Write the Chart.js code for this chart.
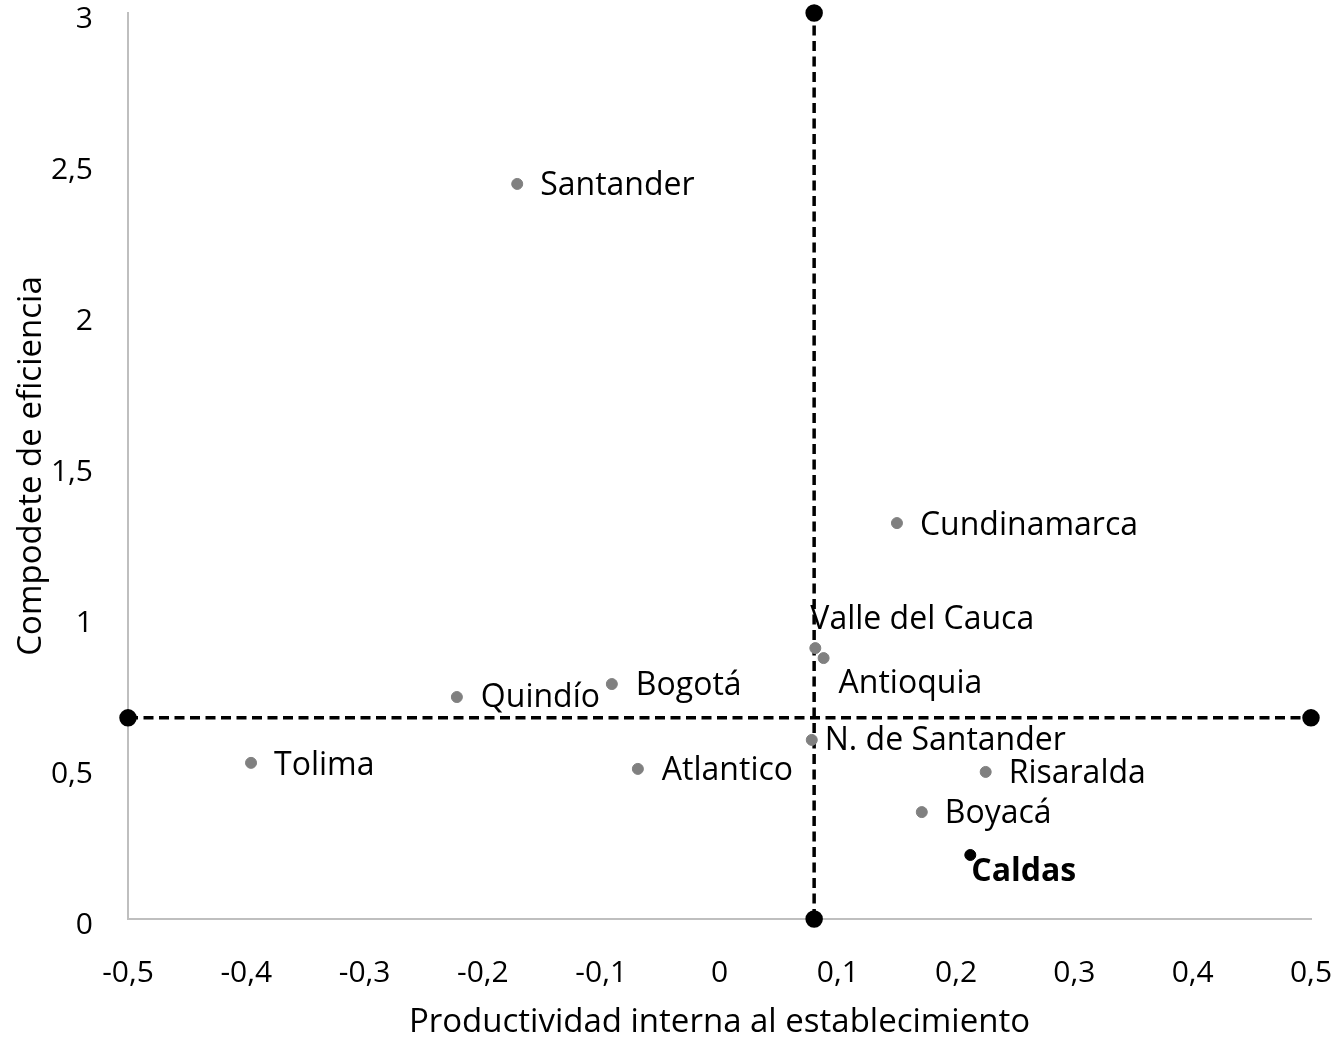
<!DOCTYPE html>
<html><head><meta charset="utf-8">
<script src="https://cdn.jsdelivr.net/npm/chart.js@4"></script>
<style>html,body{margin:0;padding:0;background:#fff;}#wrap{width:1337px;height:1042px;}</style>
</head><body><div id="wrap"><canvas id="c"></canvas></div>
<script>
const regions = ["Santander","Cundinamarca","Valle del Cauca","Antioquia","Bogotá","Quindío","Tolima","Atlantico","N. de Santander","Risaralda","Boyacá"];
const productividad = [-0.171, 0.150, 0.081, 0.088, -0.091, -0.222, -0.396, -0.069, 0.078, 0.225, 0.171];
const eficiencia = [2.434, 1.311, 0.897, 0.864, 0.778, 0.735, 0.517, 0.497, 0.593, 0.487, 0.354];
const highlightName = ["Caldas"];
const highlightX = [0.212];
const highlightY = [0.212];
const meanX = 0.080;
const meanY = 0.666;
const xTicks = [-0.5, 0.5];
const yTicks = [0, 3];

// label placement offsets (px) relative to point
const labelOffsets = {
  "Santander":[23,2],"Cundinamarca":[23,3],"Valle del Cauca":[-5,-28],"Antioquia":[15,26],
  "Bogotá":[24,2],"Quindío":[24,1],"Tolima":[23,3],"Atlantico":[24,2],"N. de Santander":[13,1],
  "Risaralda":[23,2],"Boyacá":[23,2],"Caldas":[1,17]
};
const FONT = "'Open Sans', sans-serif";
const fmt = v => { const r = Math.round(v*10)/10; return String(r).replace('.', ','); };

const labelPlugin = {
  id: 'pointLabels',
  afterDatasetsDraw(chart) {
    const ctx = chart.ctx;
    ctx.save();
    ctx.textBaseline = 'middle';
    ctx.textAlign = 'left';
    ctx.fillStyle = '#000';
    [0,1].forEach(di => {
      const ds = chart.data.datasets[di];
      const meta = chart.getDatasetMeta(di);
      meta.data.forEach((pt, i) => {
        const name = ds.names[i];
        const off = labelOffsets[name] || [20,0];
        ctx.font = (di === 1 ? 'bold ' : '') + '32px ' + FONT;
        ctx.fillText(name, pt.x + off[0], pt.y + off[1]);
      });
    });
    ctx.restore();
  }
};

new Chart(document.getElementById('c'), {
  type: 'scatter',
  data: {
    datasets: [
      { names: regions, data: productividad.map((x,i)=>({x, y: eficiencia[i]})),
        backgroundColor: '#808080', borderColor: '#808080', pointRadius: 5.5, pointHoverRadius: 5.5, order: 1 },
      { names: highlightName, data: highlightX.map((x,i)=>({x, y: highlightY[i]})),
        backgroundColor: '#000', borderColor: '#000', pointRadius: 5.5, pointHoverRadius: 5.5, order: 1 },
      { data: [{x: meanX, y: yTicks[0]}, {x: meanX, y: yTicks[1]}], showLine: true,
        borderColor: '#000', borderWidth: 3.5, borderDash: [10,5.5], backgroundColor: '#000', pointRadius: 7, order: 2, clip: false },
      { data: [{x: xTicks[0], y: meanY}, {x: xTicks[1], y: meanY}], showLine: true,
        borderColor: '#000', borderWidth: 3.5, borderDash: [10,5.5], backgroundColor: '#000', pointRadius: 7, order: 2, clip: false }
    ]
  },
  options: {
    responsive: true, maintainAspectRatio: false, animation: false,
    layout: { padding: { left: 0, right: 26, top: 13, bottom: 0 } },
    plugins: { legend: { display: false }, tooltip: { enabled: false } },
    scales: {
      x: { type: 'linear', min: xTicks[0], max: xTicks[1],
        ticks: { stepSize: 0.1, callback: fmt, color: '#000', font: { family: FONT, size: 30 }, padding: 36, maxRotation: 0, autoSkip: false },
        grid: { display: false, drawTicks: false },
        border: { display: true, color: '#bfbfbf', width: 2 },
        title: { display: true, text: 'Productividad interna al establecimiento', color: '#000', font: { family: FONT, size: 33 }, padding: { top: 13, bottom: 0 } },
        afterFit: s => { s.height = 123; s.paddingLeft = 0; s.paddingRight = 0; }
      },
      y: { type: 'linear', min: yTicks[0], max: yTicks[1],
        ticks: { stepSize: 0.5, callback: fmt, color: '#000', font: { family: FONT, size: 30 }, padding: 35, labelOffset: 6 },
        grid: { display: false, drawTicks: false },
        border: { display: true, color: '#bfbfbf', width: 2 },
        title: { display: true, text: 'Compodete de eficiencia', color: '#000', font: { family: FONT, size: 33 }, padding: { top: 12, bottom: 0 } },
        afterFit: s => { s.width = 128; s.paddingTop = 0; s.paddingBottom = 0; }
      }
    }
  },
  plugins: [labelPlugin]
});
</script>
</body></html>
